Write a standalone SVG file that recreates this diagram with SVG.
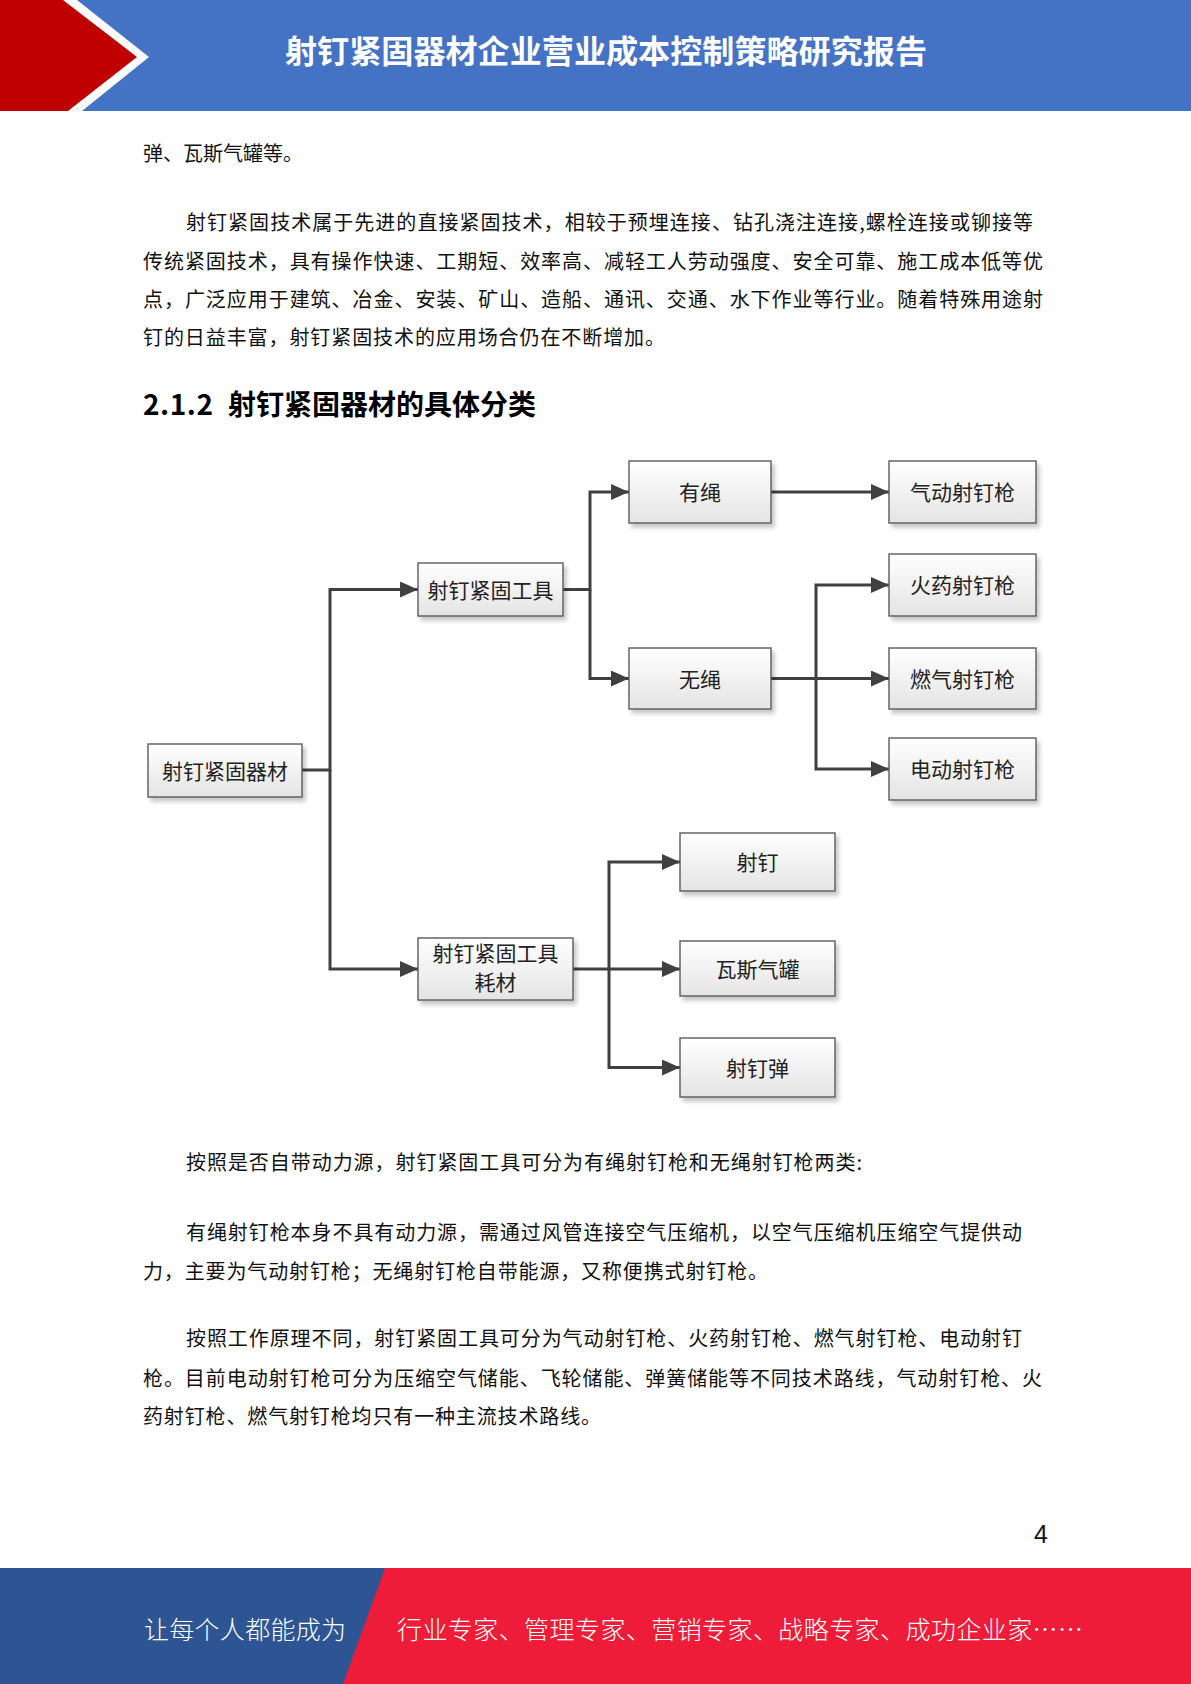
<svg xmlns="http://www.w3.org/2000/svg" width="1191" height="1684" viewBox="0 0 1191 1684">
<style>
.body{font-family:"Noto Sans CJK SC","Noto Sans",sans-serif;font-size:20px;fill:#111}
.head{font-family:"Noto Sans CJK SC","Noto Sans",sans-serif;font-size:28px;font-weight:bold;fill:#000}
.title{font-family:"Noto Sans CJK SC","Noto Sans",sans-serif;font-size:32px;font-weight:bold;fill:#fff}
.foot{font-family:"Noto Sans CJK SC","Noto Sans",sans-serif;font-size:25px;fill:#fff;font-weight:300}
.box{fill:url(#g);stroke:#5b5b5b;stroke-width:1.4;filter:url(#sh)}
.lbl{font-family:"Noto Sans CJK SC","Noto Sans",sans-serif;font-size:21px;fill:#222;text-anchor:middle}
.con{fill:none;stroke:#404040;stroke-width:3;stroke-linejoin:miter}
</style>
<defs>
<linearGradient id="g" x1="0" y1="0" x2="0" y2="1">
<stop offset="0" stop-color="#ffffff"/>
<stop offset="1" stop-color="#e4e4e4"/>
</linearGradient>
<filter id="sh" x="-10%" y="-10%" width="130%" height="140%">
<feDropShadow dx="3" dy="4" stdDeviation="2" flood-color="#000" flood-opacity="0.22"/>
</filter>
<marker id="ah" viewBox="0 0 18 16" refX="18" refY="8" markerWidth="18" markerHeight="16" markerUnits="userSpaceOnUse" orient="auto">
<path d="M0,0 L18,8 L0,16 Z" fill="#404040"/>
</marker>
</defs>
<rect width="1191" height="1684" fill="#fff"/>

<!-- header -->
<rect x="0" y="0" width="1191" height="111" fill="#4472C4"/>
<polygon points="0,0 77,0 149,57 82,111 0,111" fill="#fff"/>
<polygon points="0,0 63,0 137,57 68,111 0,111" fill="#C00000"/>
<text class="title" x="285" y="63" textLength="642" lengthAdjust="spacingAndGlyphs">射钉紧固器材企业营业成本控制策略研究报告</text>

<!-- body text top -->
<text class="body" x="143" y="161">弹、瓦斯气罐等。</text>
<text class="body" x="186" y="230" textLength="847" lengthAdjust="spacing">射钉紧固技术属于先进的直接紧固技术，相较于预埋连接、钻孔浇注连接,螺栓连接或铆接等</text>
<text class="body" x="143" y="268.5" textLength="900" lengthAdjust="spacing">传统紧固技术，具有操作快速、工期短、效率高、减轻工人劳动强度、安全可靠、施工成本低等优</text>
<text class="body" x="143" y="306.5" textLength="900" lengthAdjust="spacing">点，广泛应用于建筑、冶金、安装、矿山、造船、通讯、交通、水下作业等行业。随着特殊用途射</text>
<text class="body" x="143" y="344.5" textLength="522" lengthAdjust="spacing">钉的日益丰富，射钉紧固技术的应用场合仍在不断增加。</text>

<text class="head" y="414.5"><tspan x="143" textLength="70" lengthAdjust="spacing">2.1.2</tspan><tspan x="228" textLength="308" lengthAdjust="spacing">射钉紧固器材的具体分类</tspan></text>

<!-- connectors -->
<g id="connectors">
<path class="con" d="M302,770 H330 V589.5 H418" marker-end="url(#ah)"/>
<path class="con" d="M330,770 V969 H418" marker-end="url(#ah)"/>
<path class="con" d="M563,589.5 H590 V492 H629" marker-end="url(#ah)"/>
<path class="con" d="M590,589.5 V678.5 H629" marker-end="url(#ah)"/>
<path class="con" d="M771,492 H889" marker-end="url(#ah)"/>
<path class="con" d="M771,678.5 H889" marker-end="url(#ah)"/>
<path class="con" d="M816,678.5 V585 H889" marker-end="url(#ah)"/>
<path class="con" d="M816,678.5 V769 H889" marker-end="url(#ah)"/>
<path class="con" d="M573,969 H609 V862 H680" marker-end="url(#ah)"/>
<path class="con" d="M609,969 H680" marker-end="url(#ah)"/>
<path class="con" d="M609,969 V1067.5 H680" marker-end="url(#ah)"/>
</g>

<!-- nodes -->
<g id="n-root"><rect class="box" x="148" y="744" width="154" height="53"/><text class="lbl" x="225" y="778.5">射钉紧固器材</text></g>
<g id="n-tool"><rect class="box" x="418" y="563" width="145" height="53"/><text class="lbl" x="490.5" y="597.5">射钉紧固工具</text></g>
<g id="n-corded"><rect class="box" x="629" y="461" width="142" height="62"/><text class="lbl" x="700" y="500">有绳</text></g>
<g id="n-cordless"><rect class="box" x="629" y="648" width="142" height="61"/><text class="lbl" x="700" y="686.5">无绳</text></g>
<g id="n-pneu"><rect class="box" x="889" y="461" width="147" height="62"/><text class="lbl" x="962.5" y="500">气动射钉枪</text></g>
<g id="n-powder"><rect class="box" x="889" y="554" width="147" height="62"/><text class="lbl" x="962.5" y="593">火药射钉枪</text></g>
<g id="n-gas"><rect class="box" x="889" y="648" width="147" height="61"/><text class="lbl" x="962.5" y="686.5">燃气射钉枪</text></g>
<g id="n-elec"><rect class="box" x="889" y="738" width="147" height="62"/><text class="lbl" x="962.5" y="777">电动射钉枪</text></g>
<g id="n-cons"><rect class="box" x="418" y="938" width="155" height="62"/><text class="lbl" x="495.5" y="961">射钉紧固工具</text><text class="lbl" x="495.5" y="990">耗材</text></g>
<g id="n-nail"><rect class="box" x="680" y="833" width="155" height="58"/><text class="lbl" x="757.5" y="870">射钉</text></g>
<g id="n-can"><rect class="box" x="680" y="941" width="155" height="55"/><text class="lbl" x="757.5" y="976.5">瓦斯气罐</text></g>
<g id="n-load"><rect class="box" x="680" y="1038" width="155" height="59"/><text class="lbl" x="757.5" y="1075.5">射钉弹</text></g>

<!-- body text bottom -->
<text class="body" x="186" y="1169.5" textLength="676" lengthAdjust="spacing">按照是否自带动力源，射钉紧固工具可分为有绳射钉枪和无绳射钉枪两类:</text>
<text class="body" x="186" y="1240" textLength="836" lengthAdjust="spacing">有绳射钉枪本身不具有动力源，需通过风管连接空气压缩机，以空气压缩机压缩空气提供动</text>
<text class="body" x="143" y="1279" textLength="625" lengthAdjust="spacing">力，主要为气动射钉枪；无绳射钉枪自带能源，又称便携式射钉枪。</text>
<text class="body" x="186" y="1346" textLength="836" lengthAdjust="spacing">按照工作原理不同，射钉紧固工具可分为气动射钉枪、火药射钉枪、燃气射钉枪、电动射钉</text>
<text class="body" x="143" y="1385.5" textLength="899" lengthAdjust="spacing">枪。目前电动射钉枪可分为压缩空气储能、飞轮储能、弹簧储能等不同技术路线，气动射钉枪、火</text>
<text class="body" x="143" y="1424" textLength="458" lengthAdjust="spacing">药射钉枪、燃气射钉枪均只有一种主流技术路线。</text>

<text x="1034" y="1543" style="font-family:'Liberation Sans',sans-serif;font-size:25px;fill:#111">4</text>

<!-- footer -->
<rect x="0" y="1568" width="1191" height="116" fill="#EE1C38"/>
<polygon points="0,1568 385,1568 343,1684 0,1684" fill="#2E5593"/>
<text class="foot" x="144" y="1638.5" textLength="202" lengthAdjust="spacing">让每个人都能成为</text>
<text class="foot" x="397" y="1638.5" textLength="686" lengthAdjust="spacing">行业专家、管理专家、营销专家、战略专家、成功企业家……</text>
</svg>
